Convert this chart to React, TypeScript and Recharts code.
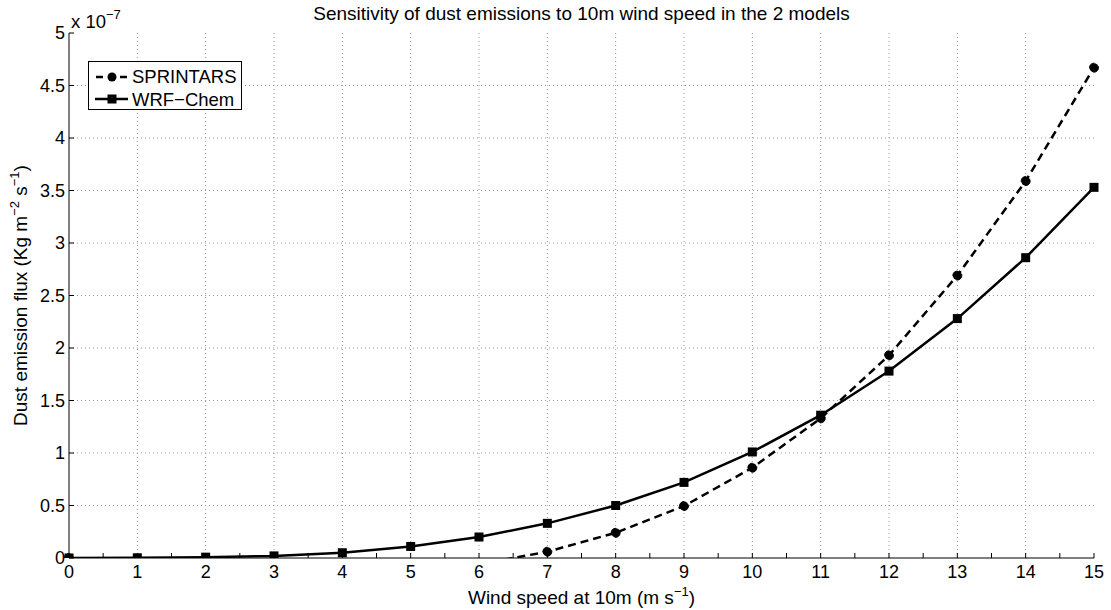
import React from "react";
import {
  LineChart,
  Line,
  XAxis,
  YAxis,
  ReferenceLine,
  Legend,
  Label,
} from "recharts";

// wind speed (m/s)
const windSpeed = [0, 1, 2, 3, 4, 5, 6, 7, 8, 9, 10, 11, 12, 13, 14, 15];
// dust flux, units of 1e-7 kg m-2 s-1 (null = below zero, clipped out)
const sprintars = [0, null, null, null, null, null, -0.06, 0.06, 0.24, 0.495, 0.86, 1.33, 1.93, 2.69, 3.59, 4.67];
const wrfChem = [0, 0.002, 0.008, 0.02, 0.05, 0.11, 0.2, 0.33, 0.5, 0.72, 1.01, 1.36, 1.78, 2.28, 2.86, 3.53];

const xLabelTicks = windSpeed;
const xMinorTicks = xLabelTicks.flatMap((t, i) => (i < xLabelTicks.length - 1 ? [t, t + 0.5] : [t]));
const yTicks = [0, 0.5, 1, 1.5, 2, 2.5, 3, 3.5, 4, 4.5, 5];

const data = windSpeed.map((w, i) => ({
  wind: w,
  sprintars: sprintars[i],
  wrf: wrfChem[i],
}));

const FONT = "'Liberation Sans', Arial, Helvetica, sans-serif";
const tickStyle = { fontSize: 18, fill: "#000", fontFamily: FONT };

const SquareDot = (props: any) => {
  const { cx, cy, index } = props;
  if (cx == null || cy == null) return <g key={`sq-${index}`} />;
  return <rect key={`sq-${index}`} x={cx - 4.5} y={cy - 4.5} width={9} height={9} fill="#000" />;
};

const LegendBox = () => (
  <svg width={155} height={50} style={{ display: "block" }}>
    <rect x={0.5} y={0.5} width={153} height={48} fill="#fff" stroke="#000" />
    <line x1={7} y1={16} x2={40} y2={16} stroke="#000" strokeWidth={2.5} strokeDasharray="7 5" strokeDashoffset={-1} />
    <circle cx={24} cy={16} r={4.5} fill="#000" />
    <line x1={7} y1={38} x2={40} y2={38} stroke="#000" strokeWidth={2.5} />
    <rect x={19.5} y={33.5} width={9} height={9} fill="#000" />
    <g fontFamily={FONT} fontSize={18.5} fill="#000">
      <text x={44} y={22}>SPRINTARS</text>
      <text x={44} y={45}>WRF−Chem</text>
    </g>
  </svg>
);

export default function App() {
  return (
    <div style={{ position: "absolute", left: 0, top: 0, background: "#fff" }}>
      <LineChart
        width={1111}
        height={610}
        data={data}
        margin={{ top: 33, right: 17, bottom: 0, left: 0 }}
      >
        {xLabelTicks.slice(1, -1).map((t) => (
          <ReferenceLine key={`vx${t}`} x={t} xAxisId="bottom" yAxisId="left" stroke="#999" strokeDasharray="1 3" />
        ))}
        {yTicks.slice(1, -1).map((t) => (
          <ReferenceLine key={`hy${t}`} y={t} xAxisId="bottom" yAxisId="left" stroke="#999" strokeDasharray="1 3" />
        ))}
        <XAxis
          xAxisId="bottom"
          dataKey="wind"
          type="number"
          domain={[0, 15]}
          ticks={xMinorTicks}
          interval={0}
          tickFormatter={(v: number) => (Number.isInteger(v) ? String(v) : "")}
          tick={tickStyle}
          tickSize={-5}
          tickMargin={12}
          height={52}
          axisLine={{ stroke: "#000" }}
          tickLine={{ stroke: "#000" }}
        >
          <Label
            content={({ viewBox }: any) => (
              <g fontFamily={FONT} fill="#000">
                <text x={viewBox.x + viewBox.width / 2} y={604} textAnchor="middle" fontSize={19}>
                  Wind speed at 10m (m s
                  <tspan dy={-8} fontSize={13}>−1</tspan>
                  <tspan dy={8}>)</tspan>
                </text>
                <text x={viewBox.x + viewBox.width / 2} y={20} textAnchor="middle" fontSize={19}>
                  Sensitivity of dust emissions to 10m wind speed in the 2 models
                </text>
                <text x={71} y={28} fontSize={18.5}>
                  x 10
                  <tspan dy={-9} fontSize={13}>−7</tspan>
                </text>
              </g>
            )}
          />
        </XAxis>
        <XAxis
          xAxisId="top"
          orientation="top"
          dataKey="wind"
          type="number"
          domain={[0, 15]}
          ticks={xMinorTicks}
          interval={0}
          tick={false}
          tickSize={-5}
          height={0}
          axisLine={{ stroke: "#000" }}
          tickLine={{ stroke: "#000" }}
        />
        <YAxis
          yAxisId="left"
          type="number"
          domain={[0, 5]}
          ticks={yTicks}
          interval={0}
          allowDataOverflow
          tick={tickStyle}
          tickSize={-5}
          tickMargin={9}
          width={69}
          axisLine={{ stroke: "#000" }}
          tickLine={{ stroke: "#000" }}
        >
          <Label
            content={({ viewBox }: any) => {
              const cx = 27;
              const cy = viewBox.y + viewBox.height / 2;
              return (
                <text
                  x={cx}
                  y={cy}
                  transform={`rotate(-90 ${cx} ${cy})`}
                  textAnchor="middle"
                  fontSize={19}
                  fontFamily={FONT}
                  fill="#000"
                >
                  Dust emission flux (Kg m
                  <tspan dy={-8} fontSize={13}>−2</tspan>
                  <tspan dy={8}> s</tspan>
                  <tspan dy={-8} fontSize={13}>−1</tspan>
                  <tspan dy={8}>)</tspan>
                </text>
              );
            }}
          />
        </YAxis>
        <YAxis
          yAxisId="right"
          orientation="right"
          type="number"
          domain={[0, 5]}
          ticks={yTicks}
          interval={0}
          allowDataOverflow
          tick={false}
          tickSize={-5}
          width={0}
          axisLine={{ stroke: "#000" }}
          tickLine={{ stroke: "#000" }}
        />
        <Line
          xAxisId="bottom"
          yAxisId="left"
          dataKey="sprintars"
          stroke="#000"
          strokeWidth={2.5}
          strokeDasharray="8 5"
          dot={{ r: 4.5, fill: "#000", stroke: "#000", strokeWidth: 1 }}
          activeDot={false}
          isAnimationActive={false}
        />
        <Line
          xAxisId="bottom"
          yAxisId="left"
          dataKey="wrf"
          stroke="#000"
          strokeWidth={2.5}
          dot={<SquareDot />}
          activeDot={false}
          isAnimationActive={false}
        />
        <Legend
          layout="horizontal"
          verticalAlign="middle"
          align="center"
          content={() => <LegendBox />}
          wrapperStyle={{ position: "absolute", left: 88, top: 61, width: "auto", height: "auto" }}
        />
      </LineChart>
    </div>
  );
}
